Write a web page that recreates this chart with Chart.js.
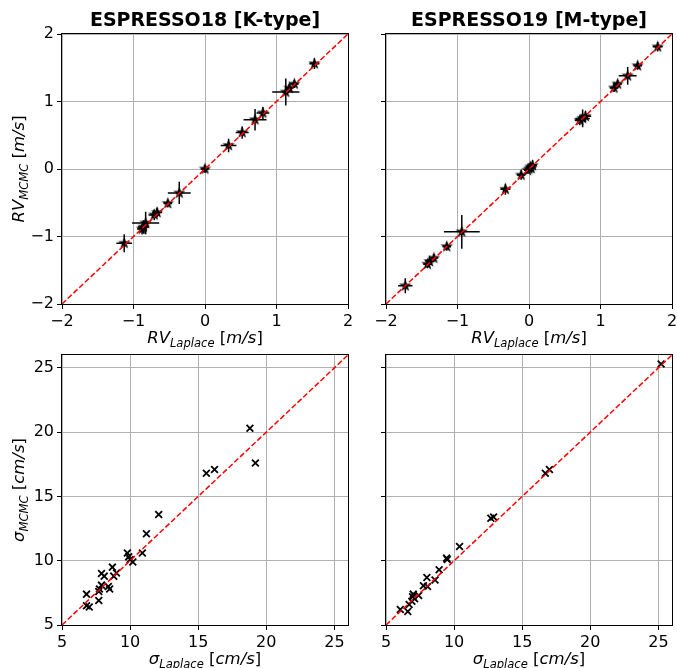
<!DOCTYPE html>
<html><head><meta charset="utf-8">
<script src="https://cdn.jsdelivr.net/npm/chart.js@4.4.1/dist/chart.umd.min.js"></script>
<style>
html,body{margin:0;padding:0;background:#fff;width:677px;height:668px;overflow:hidden;}
canvas{position:absolute;left:0;top:0;}
</style></head>
<body>
<canvas id="c1" width="700" height="668"></canvas>
<canvas id="c2" width="700" height="668"></canvas>
<canvas id="c3" width="700" height="668"></canvas>
<canvas id="c4" width="700" height="668"></canvas>
<script>
// ---------- DATA ----------
const titles = ['ESPRESSO18 [K-type]', 'ESPRESSO19 [M-type]'];
const rvTicks = [-2, -1, 0, 1, 2];
const sigTicks = [5, 10, 15, 20, 25];
const rvLimits = [-2, 2];
const sigLimits = [5, 26];

// ESPRESSO18 RV comparison
const k_rvLap   = [1.53, 1.25, 1.18, 1.13, 0.81, 0.70, 0.52, 0.33, 0.00, -0.36, -0.52, -0.67, -0.71, -0.83, -0.86, -0.88, -1.13];
const k_rvMcmc  = [1.56, 1.26, 1.20, 1.14, 0.83, 0.73, 0.54, 0.35, 0.00, -0.355, -0.51, -0.645, -0.68, -0.80, -0.86, -0.89, -1.10];
const k_rvLapErr  = [0.07, 0.06, 0.06, 0.19, 0.09, 0.16, 0.09, 0.11, 0.06, 0.16, 0.06, 0.07, 0.08, 0.19, 0.08, 0.07, 0.11];
const k_rvMcmcErr = [0.08, 0.06, 0.06, 0.20, 0.09, 0.16, 0.09, 0.10, 0.06, 0.165, 0.06, 0.07, 0.08, 0.165, 0.10, 0.08, 0.135];

// ESPRESSO19 RV comparison
const m_rvLap   = [1.80, 1.52, 1.38, 1.24, 1.19, 0.79, 0.75, 0.71, 0.05, 0.02, 0.00, -0.02, 0.03, -0.11, -0.33, -0.94, -1.15, -1.33, -1.39, -1.42, -1.73];
const m_rvMcmc  = [1.81, 1.53, 1.38, 1.26, 1.20, 0.78, 0.75, 0.72, 0.05, 0.03, 0.00, -0.02, 0.01, -0.09, -0.30, -0.93, -1.15, -1.32, -1.37, -1.41, -1.73];
const m_rvLapErr  = [0.07, 0.06, 0.125, 0.06, 0.06, 0.08, 0.10, 0.07, 0.06, 0.06, 0.05, 0.05, 0.06, 0.06, 0.07, 0.25, 0.06, 0.06, 0.06, 0.06, 0.10];
const m_rvMcmcErr = [0.07, 0.06, 0.13, 0.06, 0.06, 0.08, 0.13, 0.07, 0.08, 0.06, 0.05, 0.05, 0.06, 0.07, 0.08, 0.25, 0.06, 0.06, 0.06, 0.06, 0.11];

// ESPRESSO18 uncertainties [cm/s]
const k_sigLap  = [18.8, 19.2, 15.6, 16.2, 12.1, 11.2, 10.9, 9.8, 9.9, 10.0, 10.2, 8.7, 9.0, 8.8, 7.9, 8.1, 7.9, 7.75, 8.4, 8.5, 7.7, 6.8, 7.7, 6.8, 7.0];
const k_sigMcmc = [20.3, 17.6, 16.8, 17.1, 13.6, 12.1, 10.6, 10.6, 10.3, 10.1, 9.9, 9.5, 9.05, 8.8, 9.0, 8.8, 8.1, 7.8, 8.0, 7.8, 7.6, 7.4, 6.9, 6.5, 6.4];

// ESPRESSO19 uncertainties [cm/s]
const m_sigLap  = [25.2, 16.7, 17.0, 12.7, 12.9, 10.4, 9.5, 9.45, 8.9, 8.6, 8.0, 7.75, 8.05, 7.0, 7.4, 6.95, 7.1, 6.9, 6.7, 6.05, 6.6];
const m_sigMcmc = [25.3, 16.8, 17.1, 13.3, 13.4, 11.1, 10.1, 10.2, 9.3, 8.5, 8.7, 8.05, 8.0, 7.4, 7.3, 7.2, 7.05, 6.85, 6.6, 6.2, 6.05];

// ---------- HELPERS ----------
const FONT = '"DejaVu Sans", "Liberation Sans", sans-serif';
const fmt = v => (v < 0 ? '\u2212' + Math.abs(v) : String(v));

function makeStar(r) {
  const s = Math.ceil(r * 2 + 2);
  const c = document.createElement('canvas');
  c.width = s; c.height = s;
  const g = c.getContext('2d');
  g.translate(s / 2, s / 2);
  g.beginPath();
  for (let i = 0; i < 10; i++) {
    const a = -Math.PI / 2 + i * Math.PI / 5;
    const rr = (i % 2) ? r * 0.4 : r;
    g.lineTo(rr * Math.cos(a), rr * Math.sin(a));
  }
  g.closePath();
  g.fillStyle = '#000';
  g.fill();
  return c;
}
const starImg = makeStar(6.5);

function drawMath(ctx, parts, size, x, y, rot) {
  ctx.save();
  ctx.translate(x, y);
  if (rot) ctx.rotate(rot);
  let w = 0;
  const items = parts.map(p => {
    const fs = p.sub ? size * 0.7 : size;
    const font = (p.it ? 'italic ' : '') + fs + 'px ' + FONT;
    ctx.font = font;
    const mw = ctx.measureText(p.t).width;
    w += mw;
    return { p, font, mw };
  });
  let cx = -w / 2;
  ctx.textAlign = 'left';
  ctx.textBaseline = 'alphabetic';
  ctx.fillStyle = '#000';
  for (const it of items) {
    ctx.font = it.font;
    ctx.fillText(it.p.t, cx, it.p.sub ? size * 0.22 : 0);
    cx += it.mw;
  }
  ctx.restore();
}

const decorPlugin = {
  id: 'decor',
  beforeDatasetsDraw(chart) {
    const o = chart.options.plugins.decor;
    if (!o.errX) return;
    const ctx = chart.ctx, xs = chart.scales.x, ys = chart.scales.y;
    ctx.save();
    ctx.strokeStyle = '#000';
    ctx.lineWidth = 1.5;
    for (let i = 0; i < o.px.length; i++) {
      const cx = xs.getPixelForValue(o.px[i]);
      const cy = ys.getPixelForValue(o.py[i]);
      ctx.beginPath();
      ctx.moveTo(xs.getPixelForValue(o.px[i] - o.errX[i]), cy);
      ctx.lineTo(xs.getPixelForValue(o.px[i] + o.errX[i]), cy);
      ctx.moveTo(cx, ys.getPixelForValue(o.py[i] - o.errY[i]));
      ctx.lineTo(cx, ys.getPixelForValue(o.py[i] + o.errY[i]));
      ctx.stroke();
    }
    ctx.restore();
  },
  afterDraw(chart) {
    const o = chart.options.plugins.decor;
    const ctx = chart.ctx, a = chart.chartArea;
    ctx.save();
    ctx.strokeStyle = '#000';
    ctx.lineWidth = 1;
    ctx.strokeRect(Math.round(a.left) - 0.5, Math.round(a.top) - 0.5, Math.round(a.right - a.left) + 1, Math.round(a.bottom - a.top) + 1);
    const mid = (a.left + a.right) / 2;
    if (o.title) {
      ctx.font = 'bold 19px ' + FONT;
      ctx.fillStyle = '#000';
      ctx.textAlign = 'center';
      ctx.textBaseline = 'alphabetic';
      ctx.fillText(o.title, mid, a.top - 8);
    }
    drawMath(ctx, o.xlabel, 16.5, mid, a.bottom + 39, 0);
    if (o.ylabel) drawMath(ctx, o.ylabel, 16.5, 24, (a.top + a.bottom) / 2, -Math.PI / 2);
    ctx.restore();
  }
};

function axis(lim, ticks, isX, showLabels) {
  return {
    type: 'linear',
    min: lim[0], max: lim[1],
    afterBuildTicks: s => { s.ticks = ticks.map(v => ({ value: v })); },
    afterFit: s => { if (isX) s.height = 30; else s.width = 40; },
    ticks: {
      callback: v => showLabels ? fmt(v) : '',
      font: { family: FONT, size: 16 },
      color: '#000',
      padding: 3,
      maxRotation: 0,
      autoSkip: false
    },
    grid: { color: '#b0b0b0', lineWidth: 1, tickColor: '#000', tickLength: 5, tickWidth: 1 },
    border: { display: false }
  };
}

const rvX = [{ t: 'RV', it: true }, { t: 'Laplace', it: true, sub: true }, { t: ' [' }, { t: 'm/s', it: true }, { t: ']' }];
const rvY = [{ t: 'RV', it: true }, { t: 'MCMC', it: true, sub: true }, { t: ' [' }, { t: 'm/s', it: true }, { t: ']' }];
const sgX = [{ t: '\u03c3', it: true }, { t: 'Laplace', it: true, sub: true }, { t: ' [' }, { t: 'cm/s', it: true }, { t: ']' }];
const sgY = [{ t: '\u03c3', it: true }, { t: 'MCMC', it: true, sub: true }, { t: ' [' }, { t: 'cm/s', it: true }, { t: ']' }];

function build(id, p) {
  const pts = p.xs.map((v, i) => ({ x: v, y: p.ys[i] }));
  new Chart(document.getElementById(id), {
    type: 'scatter',
    data: {
      datasets: [
        {
          data: p.lim.map(v => ({ x: v, y: v })),
          showLine: true, borderColor: '#ff0000', borderWidth: 1.5,
          borderDash: [5.5, 2.4], pointRadius: 0, order: 0
        },
        {
          data: pts,
          pointStyle: p.star ? starImg : 'crossRot',
          radius: p.star ? 6 : 4.8,
          borderColor: '#000', backgroundColor: '#000', borderWidth: 1.8,
          order: 1
        }
      ]
    },
    plugins: [decorPlugin],
    options: {
      responsive: false, animation: false, devicePixelRatio: 1,
      layout: { padding: p.pad },
      scales: { x: axis(p.lim, p.ticks, true, true), y: axis(p.lim, p.ticks, false, p.showY) },
      plugins: {
        legend: { display: false }, tooltip: { enabled: false },
        decor: { title: p.title, xlabel: p.xl, ylabel: p.yl, px: p.xs, py: p.ys, errX: p.ex, errY: p.ey }
      }
    }
  });
}

build('c1', { xs: k_rvLap, ys: k_rvMcmc, ex: k_rvLapErr, ey: k_rvMcmcErr, lim: rvLimits, ticks: rvTicks, star: true, showY: true,
  title: titles[0], xl: rvX, yl: rvY, pad: { left: 22, top: 34, right: 352, bottom: 334 } });
build('c2', { xs: m_rvLap, ys: m_rvMcmc, ex: m_rvLapErr, ey: m_rvMcmcErr, lim: rvLimits, ticks: rvTicks, star: true, showY: false,
  title: titles[1], xl: rvX, yl: null, pad: { left: 346, top: 34, right: 28, bottom: 334 } });
build('c3', { xs: k_sigLap, ys: k_sigMcmc, lim: sigLimits, ticks: sigTicks, star: false, showY: true,
  title: null, xl: sgX, yl: sgY, pad: { left: 22, top: 355, right: 352, bottom: 13 } });
build('c4', { xs: m_sigLap, ys: m_sigMcmc, lim: sigLimits, ticks: sigTicks, star: false, showY: false,
  title: null, xl: sgX, yl: null, pad: { left: 346, top: 355, right: 28, bottom: 13 } });
</script>
</body></html>
